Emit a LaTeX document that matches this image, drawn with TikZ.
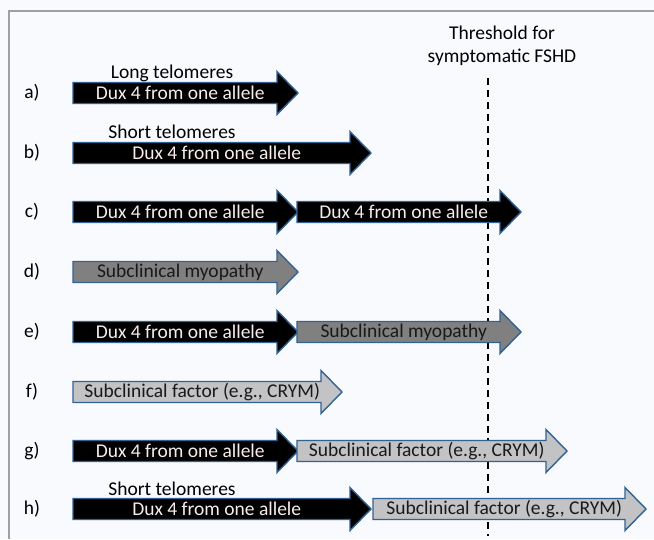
\documentclass[tikz,border=0pt]{standalone}
\usepackage{fontspec}
\setmainfont{Carlito}
\definecolor{arrowblue}{RGB}{50,98,148}
\definecolor{myogray}{RGB}{128,128,128}
\definecolor{facgray}{RGB}{195,195,197}
\definecolor{duxtext}{RGB}{248,236,234}
\definecolor{bgcol}{RGB}{249,250,253}
\definecolor{framegray}{RGB}{160,160,162}
% #1 name, #2 x of tail, #3 x of tip, #4 y, #5 style, #6 text
\newcommand{\harrow}[6]{%
 \draw[#5] (#2,#4-10.5)--(#3-21,#4-10.5)--(#3-21,#4-21.5)--(#3,#4)
  --(#3-21,#4+21.5)--(#3-21,#4+10.5)--(#2,#4+10.5)--cycle;
 \node[#5 text] (#1) at ({(#2+#3-10.5)/2},#4) {#6};}
\begin{document}
\begin{tikzpicture}[x=1pt, y=-1pt, font=\fontsize{19.5}{23}\selectfont, line join=miter,
 dux/.style={fill=black, draw=arrowblue, line width=1.4pt},
 myo/.style={fill=myogray, draw=arrowblue, line width=1.4pt},
 fac/.style={fill=facgray, draw=arrowblue, line width=1.4pt},
 dux text/.style={text=duxtext, inner sep=0pt},
 myo text/.style={text=black!90, inner sep=0pt},
 fac text/.style={text=black!90, inner sep=0pt}]
 \useasboundingbox (0,0) rectangle (654,539);
 \fill[bgcol] (0,0) rectangle (654,539);
 \draw[framegray, line width=1.2pt] (9,539)--(9,11)--(654,11);
 % threshold
 \node[align=center] (thr) at (502,46) {Threshold for\\symptomatic FSHD};
 \coordinate (thrtop) at (488,78);
 \coordinate (thrbot) at (488,536);
 \draw[line width=2pt, dash pattern=on 7pt off 5pt] (thrtop)--(thrbot);
 % row labels
 \foreach \l/\y in {a/93,b/153,c/212,d/272,e/332,f/392,g/451,h/509}
  \node (lab\l) at (32,\y) {\l)};
 % arrows
 \harrow{a1}{73}{298}{93}{dux}{Dux 4 from one allele}
 \harrow{b1}{73}{371}{153}{dux}{Dux 4 from one allele}
 \harrow{c1}{73}{298}{212}{dux}{Dux 4 from one allele}
 \harrow{c2}{297}{521}{212}{dux}{Dux 4 from one allele}
 \harrow{d1}{73}{298}{272}{myo}{Subclinical myopathy}
 \harrow{e1}{73}{298}{332}{dux}{Dux 4 from one allele}
 \harrow{e2}{297}{521}{332}{myo}{Subclinical myopathy}
 \harrow{f1}{73}{342}{392}{fac}{Subclinical factor (e.g., CRYM)}
 \harrow{g1}{73}{298}{451}{dux}{Dux 4 from one allele}
 \harrow{g2}{297}{567}{451}{fac}{Subclinical factor (e.g., CRYM)}
 \harrow{h1}{73}{371}{509}{dux}{Dux 4 from one allele}
 \harrow{h2}{373}{646}{509}{fac}{Subclinical factor (e.g., CRYM)}
 % telomere notes
 \path
 (172,73) node (tela) {Long telomeres}
 (172,132) node (telb) {Short telomeres}
 (172,489) node (telh) {Short telomeres};
\end{tikzpicture}
\end{document}
